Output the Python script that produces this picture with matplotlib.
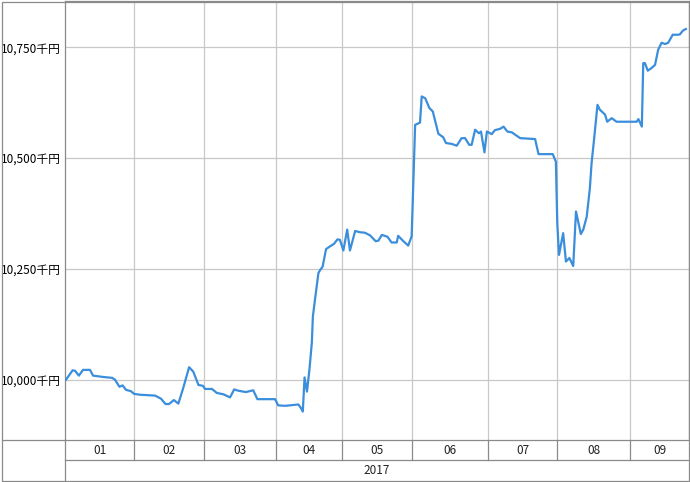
import matplotlib
matplotlib.use('Agg')
import matplotlib.pyplot as plt
from matplotlib.patches import Rectangle
from matplotlib.lines import Line2D
import numpy as np

plt.rcParams['font.family'] = ['Noto Sans CJK JP', 'DejaVu Sans']

# ---- data ----
month_labels = ['01', '02', '03', '04', '05', '06', '07', '08', '09']
month_days = [20, 20, 21, 19, 20, 22, 20, 21, 17]   # trading days per month
year_label = '2017'
ytick_values = [10000, 10250, 10500, 10750]

day_index = [0.3, 2.2, 2.9, 4.0, 5.2, 7.2, 8.1, 11.0, 13.6, 14.4, 15.7, 16.6, 17.6, 19.0,
             19.9, 21.6, 26.0, 27.7, 29.0, 30.0, 31.4, 32.7, 34.1, 35.8, 37.0, 38.5, 39.8,
             40.4, 42.4, 43.8, 45.7, 47.6, 48.8, 50.0, 52.2, 54.3, 55.5, 60.6, 61.5, 63.5,
             67.3, 67.9, 68.6, 69.1, 69.8, 70.5, 71.2, 71.5, 72.1, 73.1, 73.6, 74.3, 75.3,
             76.4, 77.6, 78.6, 79.3, 80.3, 81.4, 82.2, 83.7, 85.1, 86.5, 88.0, 89.6, 90.4,
             91.4, 93.0, 94.2, 95.7, 96.1, 97.6, 99.0, 100.0, 101.0, 102.4, 102.9, 103.9,
             105.1, 106.1, 107.7, 109.1, 109.9, 111.6, 113.0, 114.4, 115.4, 116.6, 117.3,
             118.3, 119.4, 120.0, 121.0, 121.7, 123.1, 124.0, 125.5, 126.5, 127.6, 128.9,
             131.3, 135.6, 136.6, 140.7, 141.6, 142.0, 142.5, 143.7, 144.5, 145.5, 146.6,
             147.4, 148.8, 149.5, 150.5, 151.4, 151.9, 152.6, 153.6, 154.3, 155.8, 156.4,
             157.7, 159.1, 160.6, 164.9, 165.4, 166.4, 166.8, 167.3, 168.1, 169.2, 170.2,
             171.1, 172.1, 173.1, 174.0, 175.3, 176.9, 177.4, 178.2, 179.1]
nav_values = [10001, 10022, 10021, 10010, 10023, 10023, 10010, 10007, 10005, 10001, 9985,
              9988, 9978, 9975, 9969, 9967, 9965, 9958, 9946, 9946, 9955, 9947, 9982, 10029,
              10019, 9989, 9987, 9980, 9980, 9971, 9968, 9961, 9979, 9976, 9973, 9977, 9957,
              9957, 9943, 9942, 9945, 9939, 9929, 10006, 9974, 10023, 10084, 10143, 10181,
              10241, 10248, 10255, 10295, 10301, 10307, 10317, 10316, 10292, 10339, 10292,
              10336, 10333, 10332, 10326, 10313, 10314, 10327, 10323, 10310, 10310, 10325,
              10313, 10303, 10324, 10575, 10580, 10639, 10635, 10613, 10605, 10555, 10547,
              10534, 10532, 10528, 10545, 10545, 10530, 10530, 10564, 10556, 10560, 10513,
              10560, 10554, 10563, 10566, 10571, 10560, 10558, 10545, 10543, 10509, 10509,
              10492, 10354, 10282, 10331, 10267, 10275, 10257, 10380, 10329, 10339, 10368,
              10432, 10489, 10541, 10620, 10609, 10598, 10582, 10590, 10582, 10582, 10582,
              10588, 10571, 10714, 10714, 10697, 10703, 10710, 10744, 10760, 10757, 10760,
              10778, 10778, 10779, 10787, 10791]

# ---- layout (pixels) ----
W, H = 690, 482
L, R, T, B = 65, 689, 1, 440
frame_c = '#8a8a8a'
grid_c = '#c8c8c8'
line_c = '#3a8edb'

fig = plt.figure(figsize=(W / 100, H / 100), dpi=100)
ax = fig.add_axes([L / W, 1 - B / H, (R - L) / W, (B - T) / H])

bounds = np.concatenate([[0], np.cumsum(month_days)])
ax.plot(day_index, nav_values, color=line_c, lw=1.6, solid_joinstyle='round', zorder=3)
ax.set_xlim(0, bounds[-1])
ax.set_ylim(9865, 10854)
ax.set_xticks(bounds[1:-1])
ax.set_xticklabels([])
ax.tick_params(axis='x', length=0)
ax.set_yticks(ytick_values)
ax.set_yticklabels([f'{v:,}千円' for v in ytick_values], fontsize=8.5)
ax.tick_params(axis='y', length=0, pad=3)
ax.grid(True, color=grid_c, lw=0.9)
ax.set_axisbelow(True)
for s in ax.spines.values():
    s.set_color(frame_c)
    s.set_linewidth(0.9)

# bottom date rows
axb = fig.add_axes([L / W, 1 - 480 / H, (R - L) / W, 40 / H])
axb.set_xlim(0, bounds[-1])
axb.set_ylim(0, 2)
axb.axis('off')
axb.plot([0, bounds[-1]], [1, 1], color=frame_c, lw=0.9, clip_on=False)
axb.plot([0, 0], [0, 2], color=frame_c, lw=0.9, clip_on=False)
for b in bounds[1:-1]:
    axb.plot([b, b], [1, 2], color=frame_c, lw=0.9, clip_on=False)
for i, lab in enumerate(month_labels):
    axb.text((bounds[i] + bounds[i + 1]) / 2, 1.5, lab, ha='center', va='center',
             fontsize=8.5, color='#222222')
axb.text(bounds[-1] / 2, 0.5, year_label, ha='center', va='center', fontsize=8.5,
         color='#222222')

# outer frame and left-column divider
fig.add_artist(Rectangle((1.5 / W, 1 - 480.5 / H), (R - 1.5) / W, (479) / H,
                         transform=fig.transFigure, fill=False, ec=frame_c, lw=0.9))
fig.add_artist(Line2D([1.5 / W, L / W], [1 - B / H, 1 - B / H],
                      transform=fig.transFigure, color=frame_c, lw=0.9))

fig.savefig('out.png', dpi=100)
